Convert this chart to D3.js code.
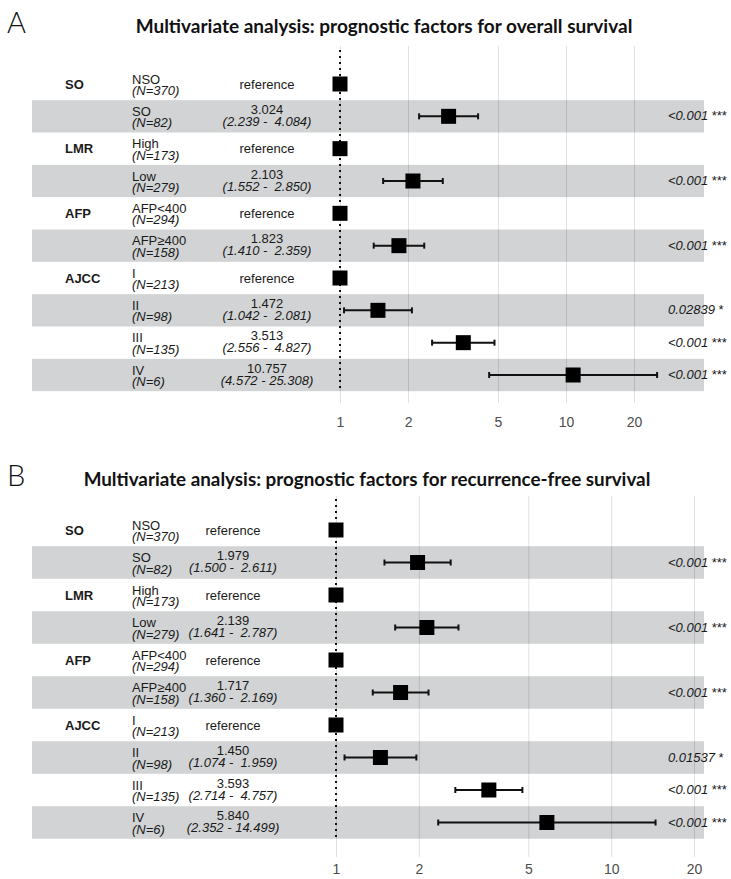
<!DOCTYPE html>
<html>
<head>
<meta charset="utf-8">
<script src="https://cdn.jsdelivr.net/npm/d3@7"></script>
<style>
  body { margin: 0; background: #fff; }
  svg text { white-space: pre; }
</style>
</head>
<body>
<div id="chart"></div>
<script>
// dados da tabela (linhas iguais nos dois painéis)
const groups = ["SO", "", "LMR", "", "AFP", "", "AJCC", "", "", ""];
const levels = ["NSO", "SO", "High", "Low", "AFP<400", "AFP≥400", "I", "II", "III", "IV"];
const counts = [370, 82, 173, 279, 294, 158, 213, 98, 135, 6];

// painel A - sobrevida global
const osHR   = [null, 3.024, null, 2.103, null, 1.823, null, 1.472, 3.513, 10.757];
const osLow  = [null, 2.239, null, 1.552, null, 1.410, null, 1.042, 2.556, 4.572];
const osHigh = [null, 4.084, null, 2.850, null, 2.359, null, 2.081, 4.827, 25.308];
const osP    = [null, "<0.001", null, "<0.001", null, "<0.001", null, "0.02839", "<0.001", "<0.001"];
const osStar = [null, "***", null, "***", null, "***", null, "*", "***", "***"];

// painel B - sobrevida livre de recorrência
const rfsHR   = [null, 1.979, null, 2.139, null, 1.717, null, 1.450, 3.593, 5.840];
const rfsLow  = [null, 1.500, null, 1.641, null, 1.360, null, 1.074, 2.714, 2.352];
const rfsHigh = [null, 2.611, null, 2.787, null, 2.169, null, 1.959, 4.757, 14.499];
const rfsP    = [null, "<0.001", null, "<0.001", null, "<0.001", null, "0.01537", "<0.001", "<0.001"];
const rfsStar = [null, "***", null, "***", null, "***", null, "*", "***", "***"];

const ticks = [1, 2, 5, 10, 20];

const W = 731, H = 879;
const tableFont = "'Liberation Sans', Arial, sans-serif";

const svg = d3.select("#chart")
    .append("svg")
    .attr("width", W)
    .attr("height", H);

const panels = [
  {
    letter: "A", title: "Multivariate analysis: prognostic factors for overall survival",
    titleY: 33, titleX: 384, titleW: 497,
    rowTop: 84, rowBottom: 375, xRange: [340, 634], estX: 267,
    gridTop: 46, gridBottom: 403, dotTop: 50, dotBottom: 390, tickPad: 14,
    hr: osHR, low: osLow, high: osHigh, p: osP, star: osStar
  },
  {
    letter: "B", title: "Multivariate analysis: prognostic factors for recurrence-free survival",
    titleY: 486, titleX: 367, titleW: 567,
    rowTop: 530, rowBottom: 822.5, xRange: [336, 694], estX: 233,
    gridTop: 496, gridBottom: 857, dotTop: 499, dotBottom: 837, tickPad: 7,
    hr: rfsHR, low: rfsLow, high: rfsHigh, p: rfsP, star: rfsStar
  }
];

function fmtCI(lo, hi) {
  return `(${lo.toFixed(3)} - ${hi.toFixed(3).padStart(6, " ")})`;
}

panels.forEach(function(P) {
  const g = svg.append("g");
  const idx = d3.range(levels.length);

  const x = d3.scaleLog().domain([1, 20]).range(P.xRange);
  const y = d3.scalePoint().domain(idx).range([P.rowTop, P.rowBottom]);
  const rowH = y.step();

  // letra do painel
  g.append("text")
    .attr("x", 7).attr("y", P.titleY)
    .attr("font-family", "Lato, 'DejaVu Sans', sans-serif")
    .attr("font-weight", 300)
    .attr("font-size", 29)
    .attr("fill", "#111")
    .text(P.letter);

  // título (ajusta tamanho para a largura medida)
  const title = g.append("text")
    .attr("x", P.titleX).attr("y", P.titleY)
    .attr("text-anchor", "middle")
    .attr("font-family", "Lato, 'Open Sans', sans-serif")
    .attr("font-weight", 700)
    .attr("font-size", 16)
    .attr("fill", "#111")
    .text(P.title);
  const len = title.node().getComputedTextLength();
  title.attr("font-size", 16 * P.titleW / len);

  // faixas cinzas nas linhas ímpares
  g.selectAll("rect.band")
    .data(idx.filter(i => i % 2 === 1))
    .join("rect")
    .attr("class", "band")
    .attr("x", 32)
    .attr("width", 704 - 32)
    .attr("y", i => y(i) - rowH / 2)
    .attr("height", rowH)
    .attr("fill", "#d1d3d4");

  // grade vertical + rótulos do eixo
  const axis = g.append("g")
    .attr("transform", `translate(0,${P.gridBottom})`)
    .call(d3.axisBottom(x)
      .tickValues(ticks)
      .tickFormat(d3.format("d"))
      .tickSize(-(P.gridBottom - P.gridTop))
      .tickPadding(P.tickPad));
  axis.select(".domain").remove();
  axis.selectAll(".tick line")
    .attr("stroke", "rgba(0,0,0,0.12)")
    .attr("stroke-width", 1);
  axis.selectAll(".tick text")
    .attr("font-family", tableFont)
    .attr("font-size", 14)
    .attr("fill", "#4d4d4d");

  // linha de referência pontilhada em HR = 1
  g.append("line")
    .attr("x1", x(1)).attr("x2", x(1))
    .attr("y1", P.dotTop).attr("y2", P.dotBottom)
    .attr("stroke", "#111")
    .attr("stroke-width", 2)
    .attr("stroke-dasharray", "2,4");

  // intervalos de confiança
  const ci = idx.filter(i => P.hr[i] !== null);
  g.selectAll("line.ci")
    .data(ci)
    .join("line")
    .attr("class", "ci")
    .attr("x1", i => x(P.low[i])).attr("x2", i => x(P.high[i]))
    .attr("y1", i => y(i)).attr("y2", i => y(i))
    .attr("stroke", "#111").attr("stroke-width", 2);
  ["low", "high"].forEach(function(k) {
    g.selectAll("line.cap-" + k)
      .data(ci)
      .join("line")
      .attr("class", "cap-" + k)
      .attr("x1", i => x(P[k][i])).attr("x2", i => x(P[k][i]))
      .attr("y1", i => y(i) - 3).attr("y2", i => y(i) + 3)
      .attr("stroke", "#111").attr("stroke-width", 2);
  });

  // quadrados (referência em 1)
  const sq = 15;
  g.selectAll("rect.pt")
    .data(idx)
    .join("rect")
    .attr("class", "pt")
    .attr("x", i => x(P.hr[i] === null ? 1 : P.hr[i]) - sq / 2)
    .attr("y", i => y(i) - sq / 2)
    .attr("width", sq).attr("height", sq)
    .attr("fill", "#000");

  // colunas de texto
  const txt = g.append("g")
    .attr("font-family", tableFont)
    .attr("font-size", 13)
    .attr("fill", "#1a1a1a");

  txt.selectAll("text.grp")
    .data(idx.filter(i => groups[i]))
    .join("text")
    .attr("class", "grp")
    .attr("x", 65).attr("y", i => y(i) + 4.5)
    .attr("font-weight", 700)
    .text(i => groups[i]);

  txt.selectAll("text.lvl")
    .data(idx)
    .join("text")
    .attr("class", "lvl")
    .attr("x", 132).attr("y", i => y(i) - 0.5)
    .text(i => levels[i]);

  txt.selectAll("text.n")
    .data(idx)
    .join("text")
    .attr("class", "n")
    .attr("x", 132).attr("y", i => y(i) + 11)
    .attr("font-style", "italic")
    .text(i => `(N=${counts[i]})`);

  txt.selectAll("text.ref")
    .data(idx.filter(i => P.hr[i] === null))
    .join("text")
    .attr("class", "ref")
    .attr("x", P.estX).attr("y", i => y(i) + 4.5)
    .attr("text-anchor", "middle")
    .text("reference");

  txt.selectAll("text.est")
    .data(ci)
    .join("text")
    .attr("class", "est")
    .attr("x", P.estX).attr("y", i => y(i) - 2.5)
    .attr("text-anchor", "middle")
    .text(i => P.hr[i].toFixed(3));

  txt.selectAll("text.ci")
    .data(ci)
    .join("text")
    .attr("class", "ci")
    .attr("x", P.estX).attr("y", i => y(i) + 9.5)
    .attr("text-anchor", "middle")
    .attr("font-style", "italic")
    .text(i => fmtCI(P.low[i], P.high[i]));

  const pt = txt.selectAll("text.p")
    .data(ci)
    .join("text")
    .attr("class", "p")
    .attr("x", 668).attr("y", i => y(i) + 4);
  pt.append("tspan")
    .attr("font-style", "italic")
    .text(i => P.p[i]);
  pt.append("tspan")
    .text(i => " " + P.star[i]);
});
</script>
</body>
</html>
